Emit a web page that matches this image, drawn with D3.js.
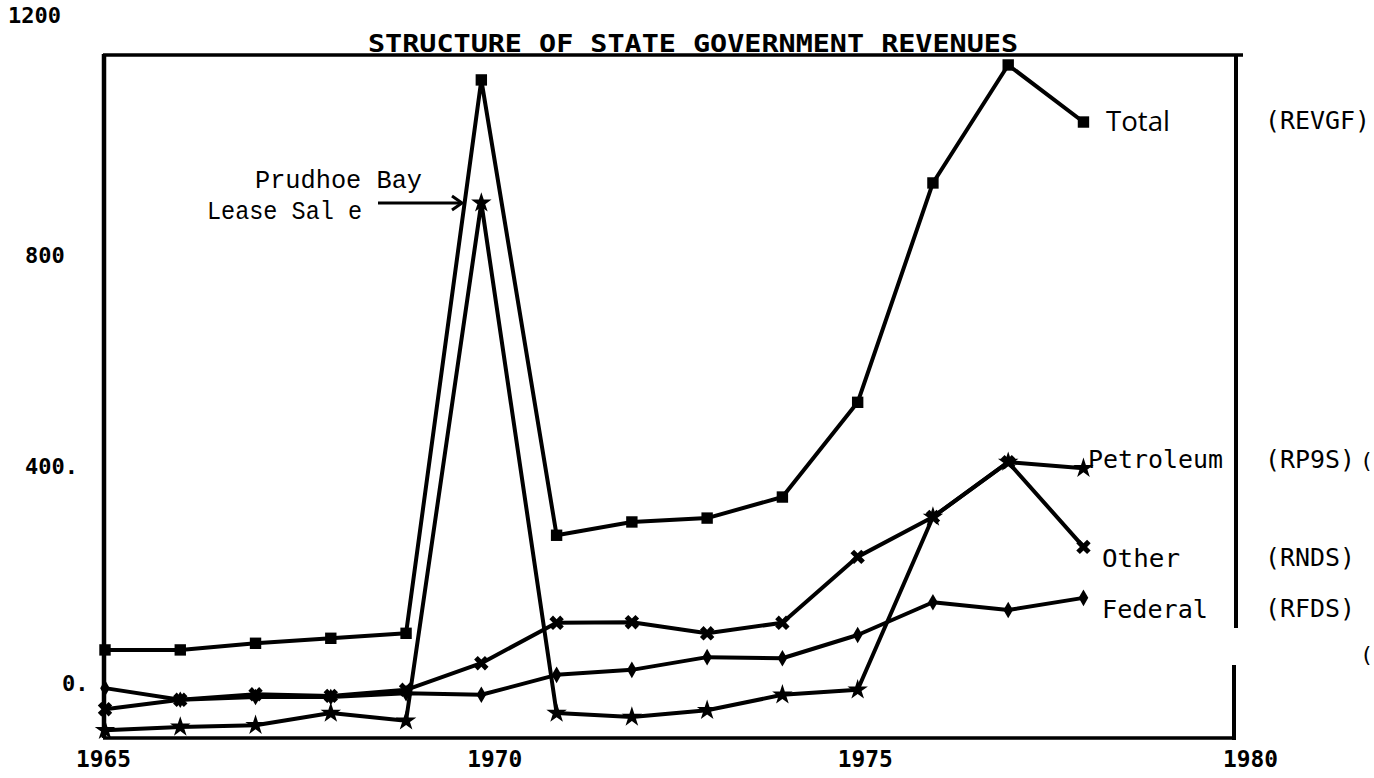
<!DOCTYPE html>
<html>
<head>
<meta charset="utf-8">
<script src="https://cdn.jsdelivr.net/npm/d3@7"></script>
<style>
  html, body { margin: 0; padding: 0; background: #fff; }
  svg { display: block; }
</style>
</head>
<body>
<svg id="chart" width="1374" height="778"></svg>
<script>
// ---------------- data ----------------
const years = [1965, 1966, 1967, 1968, 1969, 1970, 1971, 1972, 1973, 1974, 1975, 1976, 1977, 1978];
const total     = [67, 67, 79, 88, 97, 1096, 274, 298, 305, 343, 514, 910, 1123, 1020];
const petroleum = [-78, -72, -69, -47, -61, 874, -47, -54, -42, -14, -5, 307, 406, 395];
const other     = [-40, -23, -13, -16, -5, 43, 116, 117, 97, 116, 235, 307, 406, 253];
const federal   = [-2, -23, -18, -18, -11, -14, 22, 31, 54, 52, 94, 153, 139, 161];

const seriesNames = ["Total", "Petroleum", "Other", "Federal"];
const seriesCodes = ["(REVGF)", "(RP9S)", "(RNDS)", "(RFDS)"];
const seriesValues = [total, petroleum, other, federal];

const xTicks = [1965, 1970, 1975, 1980];
const yTicks = [0, 400, 800, 1200];
const yTickLabels = ["0.", "400.", "800", "1200"];

const titleText = "STRUCTURE OF STATE GOVERNMENT REVENUES";
const noteLines = ["Prudhoe Bay", "Lease Sal e"];

// ---------------- layout ----------------
const svg = d3.select("#chart");
const x = d3.scaleLinear().domain([1965, 1980]).range([105, 1234]);
const y = d3.scaleLinear().domain([-92, 1141]).range([738, 55]);

const mono = "'DejaVu Sans Mono', 'Liberation Mono', monospace";
const thinMono = "'Liberation Mono', 'DejaVu Sans Mono', monospace";

// frame
const [x0, x1] = x.range();
const [yb, yt] = y.range();
const frame = svg.append("g").attr("stroke", "#000").attr("fill", "none");
frame.append("line").attr("x1", x0 - 2).attr("x2", x1 + 9).attr("y1", yt).attr("y2", yt).attr("stroke-width", 3.5);
frame.append("line").attr("x1", x0 - 1).attr("x2", x0 - 1).attr("y1", yt - 1).attr("y2", yb).attr("stroke-width", 4.5);
frame.append("line").attr("x1", x1 + 2).attr("x2", x1 + 2).attr("y1", yt).attr("y2", 628).attr("stroke-width", 4);
frame.append("line").attr("x1", x1).attr("x2", x1).attr("y1", 665).attr("y2", yb + 2).attr("stroke-width", 4);
frame.append("line").attr("x1", x0 - 2).attr("x2", x1 + 2).attr("y1", yb).attr("y2", yb).attr("stroke-width", 3.5);

// title
svg.append("text")
  .attr("x", 368).attr("y", 52)
  .attr("font-family", mono).attr("font-weight", "bold").attr("font-size", 24)
  .attr("textLength", 650).attr("lengthAdjust", "spacingAndGlyphs")
  .text(titleText);

// y axis labels
const tickLabelX = [62, 25, 25, 8];
const tickLabelDy = [-4, 0, 11, -8];
const yAxis = svg.append("g")
  .call(d3.axisLeft(y).tickValues(yTicks).tickSize(0).tickFormat((d, i) => yTickLabels[i]));
yAxis.select(".domain").remove();
yAxis.selectAll("text")
  .attr("x", (d, i) => tickLabelX[i])
  .attr("y", (d, i) => tickLabelDy[i])
  .attr("dy", "0.35em")
  .attr("text-anchor", "start")
  .attr("font-family", mono).attr("font-weight", "bold").attr("font-size", 22)
  .attr("fill", "#000");

// x axis labels
const xLabelDx = [-2, 13, 7, 16];
const xAxis = svg.append("g").attr("transform", `translate(0,${yb})`)
  .call(d3.axisBottom(x).tickValues(xTicks).tickSize(0).tickFormat(d3.format("d")));
xAxis.select(".domain").remove();
xAxis.selectAll("text")
  .attr("y", 13).attr("dy", "0.71em").attr("dx", (d, i) => xLabelDx[i])
  .attr("font-family", mono).attr("font-weight", "bold").attr("font-size", 23)
  .attr("textLength", 55).attr("lengthAdjust", "spacingAndGlyphs")
  .attr("fill", "#000");

// lines
const line = d3.line().x((d, i) => x(years[i])).y(d => y(d));
const g = svg.append("g");
seriesValues.forEach(vals => {
  g.append("path").datum(vals)
    .attr("d", line)
    .attr("fill", "none").attr("stroke", "#000")
    .attr("stroke-width", 4).attr("stroke-linejoin", "round");
});

// markers
const markerTypes = [
  { type: d3.symbolSquare, size: 130, rot: 0 },
  { type: d3.symbolStar, size: 130, rot: 0 },
  { type: d3.symbolCross, size: 130, rot: 45 },
  { type: d3.symbolDiamond, size: 80, rot: 0 }
];
seriesValues.forEach((vals, s) => {
  const m = markerTypes[s];
  g.append("g").selectAll("path").data(vals).join("path")
    .attr("d", d3.symbol().type(m.type).size(m.size))
    .attr("transform", (d, i) => `translate(${x(years[i])},${y(d)}) rotate(${m.rot})`)
    .attr("fill", "#000");
});

// series labels
const labelLayout = [
  { x: 1106, y: 131, len: 64, font: "'Open Sans', 'Noto Sans', sans-serif", size: 28 },
  { x: 1088, y: 468, len: 135, font: mono, size: 25 },
  { x: 1102, y: 567, len: 78, font: mono, size: 25 },
  { x: 1102, y: 618, len: 106, font: mono, size: 25 }
];
const codeY = [129, 468, 566, 617];
seriesNames.forEach((name, s) => {
  const L = labelLayout[s];
  svg.append("text").attr("x", L.x).attr("y", L.y)
    .attr("font-family", L.font).attr("font-size", L.size)
    .attr("textLength", L.len).attr("lengthAdjust", "spacingAndGlyphs")
    .text(name);
  svg.append("text").attr("x", 1265).attr("y", codeY[s])
    .attr("font-family", mono).attr("font-size", 25)
    .attr("textLength", s === 0 ? 105 : 90).attr("lengthAdjust", "spacingAndGlyphs")
    .text(seriesCodes[s]);
});
// stray parentheses at right edge
[468, 662].forEach(yy => {
  svg.append("text").attr("x", 1360).attr("y", yy)
    .attr("font-family", mono).attr("font-size", 22).text("(");
});
svg.append("line").attr("x1", x1 + 2).attr("x2", x1 + 2).attr("y1", 440).attr("y2", 628)
  .attr("stroke", "#000").attr("stroke-width", 4);

// annotation
svg.append("text").attr("x", 422).attr("y", 188).attr("text-anchor", "end")
  .attr("font-family", thinMono).attr("font-size", 25)
  .attr("textLength", 167).attr("lengthAdjust", "spacingAndGlyphs")
  .text(noteLines[0]);
svg.append("text").attr("x", 362).attr("y", 219).attr("text-anchor", "end")
  .attr("font-family", thinMono).attr("font-size", 25)
  .attr("textLength", 155).attr("lengthAdjust", "spacingAndGlyphs")
  .text(noteLines[1]);
svg.append("line").attr("x1", 378).attr("x2", 461).attr("y1", 203).attr("y2", 203)
  .attr("stroke", "#000").attr("stroke-width", 3);
svg.append("path").attr("d", "M452,196 L462,203 L452,210")
  .attr("fill", "none").attr("stroke", "#000").attr("stroke-width", 3);
</script>
</body>
</html>
